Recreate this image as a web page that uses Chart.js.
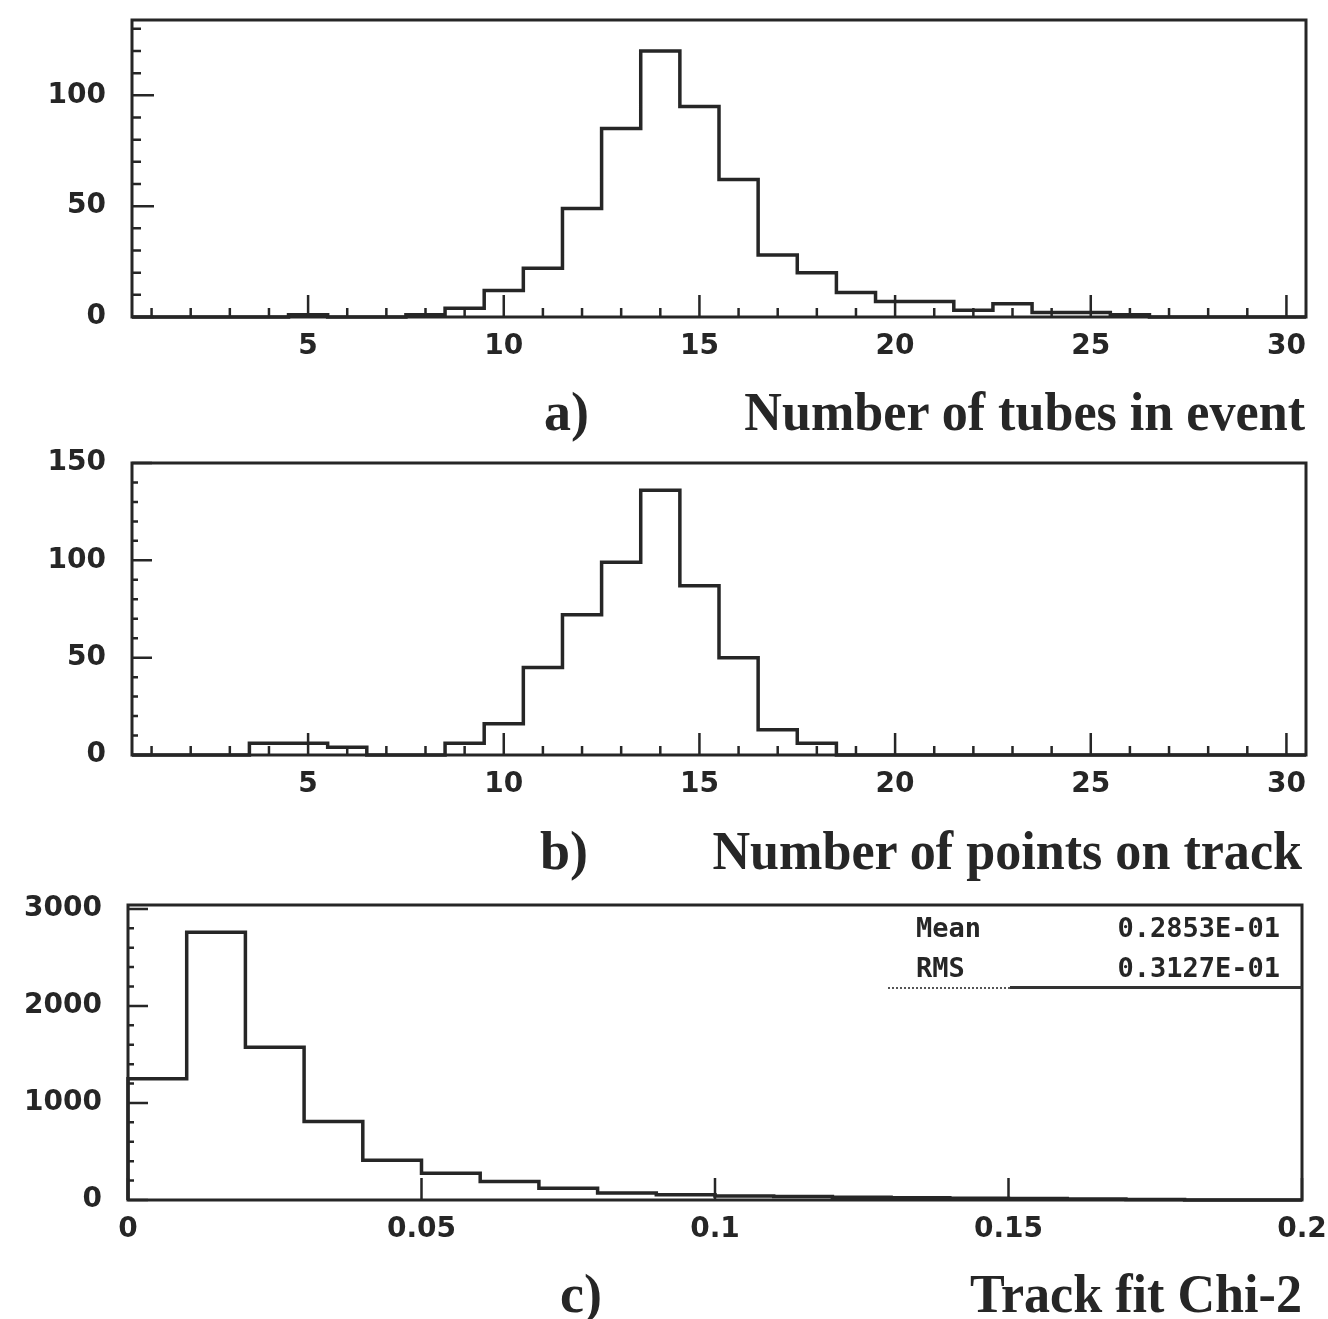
<!DOCTYPE html>
<html>
<head>
<meta charset="utf-8">
<script src="https://cdn.jsdelivr.net/npm/chart.js@4.4.0/dist/chart.umd.min.js"></script>
<style>
  body { margin: 0; background: #fff; }
  #page { position: relative; width: 1328px; height: 1319px; overflow: hidden; }
  canvas { position: absolute; left: 0; }
  .title { position: absolute; font-family: "Liberation Serif", serif; font-weight: bold; font-size: 54px; line-height: 54px; color: #262626; white-space: nowrap; }
  .name { transform: scaleX(0.965); transform-origin: right center; }
  .stat { position: absolute; font-family: "DejaVu Sans Mono", monospace; font-weight: bold; font-size: 27px; line-height: 28px; color: #262626; white-space: nowrap; }
</style>
</head>
<body>
<div id="page">
  <canvas id="chartA" width="1328" height="380" style="top:0px"></canvas>
  <canvas id="chartB" width="1328" height="360" style="top:440px"></canvas>
  <canvas id="chartC" width="1328" height="380" style="top:880px"></canvas>

  <div class="title" style="left:544px;top:385px">a)</div>
  <div class="title name" style="right:23px;top:385px">Number of tubes in event</div>
  <div class="title" style="left:540px;top:824px">b)</div>
  <div class="title name" style="right:26px;top:824px">Number of points on track</div>
  <div class="title" style="left:560px;top:1267px">c)</div>
  <div class="title name" style="right:26px;top:1267px">Track fit Chi-2</div>

  <div class="stat" style="left:916px;top:914px">Mean</div>
  <div class="stat" style="right:48px;top:914px">0.2853E-01</div>
  <div class="stat" style="left:916px;top:954px">RMS</div>
  <div class="stat" style="right:48px;top:954px">0.3127E-01</div>
  <div style="position:absolute;left:888px;top:987px;width:122px;border-top:2px dotted #555"></div>
  <div style="position:absolute;left:1010px;top:986px;width:292px;border-top:3px solid #333"></div>
</div>
<script>
'use strict'

var ink = '#262626';

// a) number of tubes in event, bins of width 1 centred on 1..30
var edgesA = [0.5, 30.5];
var countsA = [0, 0, 0, 0, 1, 0, 0, 1, 4, 12, 22, 49, 85, 120, 95, 62, 28, 20, 11, 7, 7, 3, 6, 2, 2, 1, 0, 0, 0, 0];
var xTicksA = [5, 10, 15, 20, 25, 30];
var yTicksA = [0, 50, 100];

// b) number of points on track
var edgesB = [0.5, 30.5];
var countsB = [0, 0, 0, 6, 6, 4, 0, 0, 6, 16, 45, 72, 99, 136, 87, 50, 13, 6, 0, 0, 0, 0, 0, 0, 0, 0, 0, 0, 0, 0];
var xTicksB = [5, 10, 15, 20, 25, 30];
var yTicksB = [0, 50, 100, 150];

// c) track fit chi-2, bins of width 0.01
var edgesC = [0, 0.2];
var countsC = [1250, 2760, 1575, 810, 410, 275, 190, 120, 72, 55, 42, 35, 28, 22, 18, 15, 10, 5, 0, 0];
var xTicksC = [0, 0.05, 0.1, 0.15, 0.2];
var yTicksC = [0, 1000, 2000, 3000];

// turn bin contents into the outline of a step histogram
function histPoints (edges, counts) {
	var w = (edges[1] - edges[0]) / counts.length,
		pts = [{x: edges[0], y: 0}];
	counts.forEach(function (c, i) { pts.push({x: edges[0] + i * w, y: c}); });
	pts.push({x: edges[1], y: 0});
	return pts;
}

// frame + inward tick marks, like the old HBOOK plots
var frameTicks = {
	id: 'frameTicks',
	afterDatasetsDraw: function (chart, args, o) {
		var ctx = chart.ctx, a = chart.chartArea, xs = chart.scales.x, ys = chart.scales.y, v;
		ctx.save();
		ctx.strokeStyle = ink;
		ctx.lineWidth = 3;
		ctx.strokeRect(a.left, a.top, a.right - a.left, a.bottom - a.top);
		ctx.lineWidth = 2.5;
		ctx.beginPath();
		if (o.xMinor) {
			for (v = Math.ceil(xs.min / o.xMinor) * o.xMinor; v <= xs.max + 1e-9; v += o.xMinor) {
				var px = xs.getPixelForValue(v);
				ctx.moveTo(px, a.bottom);
				ctx.lineTo(px, a.bottom - o.xMinorLen);
			}
		}
		for (v = Math.ceil(xs.min / o.xMajor - 1e-9) * o.xMajor; v <= xs.max + 1e-9; v += o.xMajor) {
			var qx = xs.getPixelForValue(v);
			ctx.moveTo(qx, a.bottom);
			ctx.lineTo(qx, a.bottom - o.xMajorLen);
		}
		for (v = 0; v <= ys.max + 1e-9; v += o.yMinor) {
			var py = ys.getPixelForValue(v);
			ctx.moveTo(a.left, py);
			ctx.lineTo(a.left + o.yMinorLen, py);
		}
		for (v = 0; v <= ys.max + 1e-9; v += o.yMajor) {
			var qy = ys.getPixelForValue(v);
			ctx.moveTo(a.left, qy);
			ctx.lineTo(a.left + o.yMajorLen, qy);
		}
		ctx.stroke();
		ctx.restore();
	}
};

function makeHist (id, edges, counts, xTicks, yTicks, yMax, box, tickOpts) {
	var tickFont = {family: 'DejaVu Sans', size: 28, weight: 'bold'};
	return new Chart(document.getElementById(id), {
		type: 'line',
		data: {
			datasets: [{
				data: histPoints(edges, counts),
				stepped: 'before',
				borderColor: ink,
				borderWidth: 3.5,
				pointRadius: 0,
				fill: false,
				clip: 4
			}]
		},
		options: {
			responsive: false,
			animation: false,
			layout: {padding: {top: box.top, right: box.right, bottom: 0, left: 0}},
			plugins: {legend: {display: false}, tooltip: {enabled: false}, frameTicks: tickOpts},
			scales: {
				x: {
					type: 'linear',
					min: edges[0],
					max: edges[1],
					grid: {display: false, drawTicks: false},
					border: {display: false},
					afterBuildTicks: function (s) { s.ticks = xTicks.map(function (v) { return {value: v}; }); },
					afterFit: function (s) { s.height = box.xHeight; s.paddingLeft = 0; s.paddingRight = 0; },
					ticks: {color: ink, font: tickFont, padding: 13, maxRotation: 0, autoSkip: false,
						callback: function (v) { return String(v); }}
				},
				y: {
					min: 0,
					max: yMax,
					grid: {display: false, drawTicks: false},
					border: {display: false},
					afterBuildTicks: function (s) { s.ticks = yTicks.map(function (v) { return {value: v}; }); },
					afterFit: function (s) { s.width = box.yWidth; s.paddingTop = 0; s.paddingBottom = 0; },
					ticks: {color: ink, font: tickFont, padding: 26,
						callback: function (v) { return String(v); }}
				}
			}
		},
		plugins: [frameTicks]
	});
}

makeHist('chartA', edgesA, countsA, xTicksA, yTicksA, 134,
	{top: 20, right: 22, xHeight: 63, yWidth: 132},
	{xMinor: 1, xMinorLen: 9, xMajor: 5, xMajorLen: 22, yMinor: 10, yMinorLen: 9, yMajor: 50, yMajorLen: 22});

makeHist('chartB', edgesB, countsB, xTicksB, yTicksB, 150,
	{top: 23, right: 22, xHeight: 45, yWidth: 132},
	{xMinor: 1, xMinorLen: 9, xMajor: 5, xMajorLen: 22, yMinor: 10, yMinorLen: 6, yMajor: 50, yMajorLen: 20});

makeHist('chartC', edgesC, countsC, xTicksC, yTicksC, 3040,
	{top: 25, right: 26, xHeight: 60, yWidth: 128},
	{xMinor: 0, xMajor: 0.05, xMajorLen: 22, yMinor: 200, yMinorLen: 6, yMajor: 1000, yMajorLen: 20});
</script>
</body>
</html>
